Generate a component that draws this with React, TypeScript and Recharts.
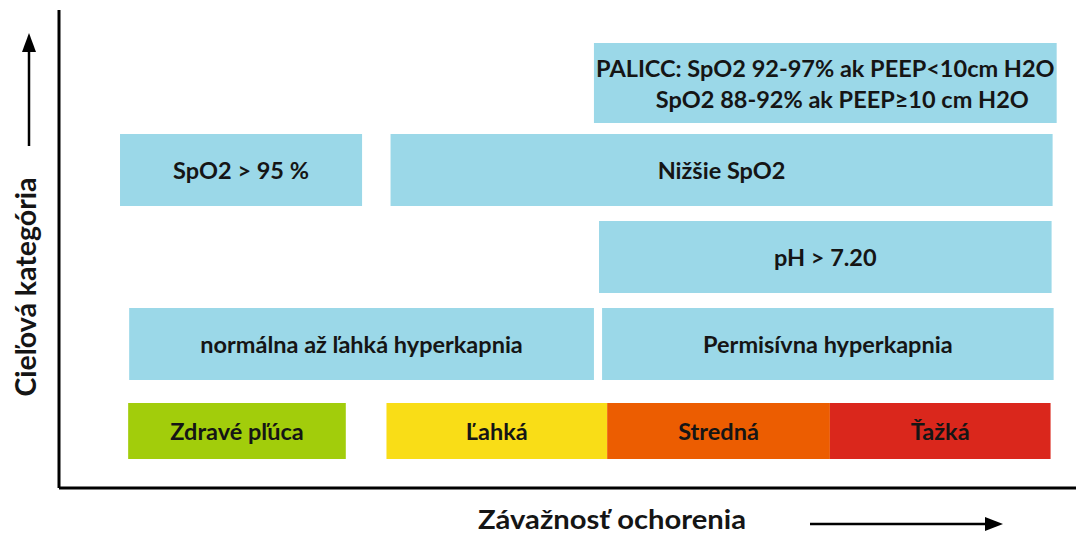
import React from 'react';
import { BarChart, Bar, XAxis, YAxis } from 'recharts';

const rows = ['PALICC', 'Oxygenácia', 'pH', 'CO2', 'Závažnosť'];

// box extent along the severity axis (0-100), [start, end]; null = no box
const segA = [[52.6, 98.1], [6.0, 29.8], [53.1, 97.6], [6.9, 52.6], [6.8, 28.2]];
const segB = [null, [32.6, 97.7], null, [53.4, 97.8], [32.2, 53.9]];
const segC = [null, null, null, null, [53.9, 75.8]];
const segD = [null, null, null, null, [75.8, 97.5]];

const textA = [
  ['PALICC: SpO2 92-97% ak PEEP<10cm H2O', 'SpO2 88-92% ak PEEP≥10 cm H2O'],
  ['SpO2 > 95 %'],
  ['pH > 7.20'],
  ['normálna až ľahká hyperkapnia'],
  ['Zdravé pľúca'],
];
const textB = [null, ['Nižšie SpO2'], null, ['Permisívna hyperkapnia'], ['Ľahká']];
const textC = [null, null, null, null, ['Stredná']];
const textD = [null, null, null, null, ['Ťažká']];

const BLUE = '#9bd8e8';
const colA = [BLUE, BLUE, BLUE, BLUE, '#a2cd0b'];
const colB = [BLUE, BLUE, BLUE, BLUE, '#f9dd17'];
const colC = [BLUE, BLUE, BLUE, BLUE, '#ec5d01'];
const colD = [BLUE, BLUE, BLUE, BLUE, '#da271c'];

const data = rows.map((row, i) => ({
  row,
  a: segA[i], b: segB[i], c: segC[i], d: segD[i],
  ta: textA[i], tb: textB[i], tc: textC[i], td: textD[i],
  ca: colA[i], cb: colB[i], cc: colC[i], cd: colD[i],
}));

const rowHeight = [80, 72, 72, 72, 56];
const FONT = 'Lato, "Open Sans", sans-serif';
const INK = '#151515';

const makeShape = (key: string) => (props: any) => {
  const { x, y, width, height, payload } = props;
  if (!payload || !payload[key] || !(width > 0)) return <g />;
  const r = rows.indexOf(payload.row);
  const h = rowHeight[r] ?? height;
  const cy = y + height / 2;
  const cx = x + width / 2;
  const lines: string[] = payload['t' + key] || [];
  const lh = 31;
  return (
    <g>
      <rect x={x} y={cy - h / 2} width={width} height={h} fill={payload['c' + key]} />
      {lines.map((t, k) => (
        <text
          key={k}
          x={cx + (k > 0 ? 17 : 0)}
          y={cy + (k - (lines.length - 1) / 2) * lh}
          textAnchor="middle"
          dominantBaseline="central"
          fontFamily={FONT}
          fontWeight={700}
          fontSize={23.5}
          fill={INK}
        >
          {t}
        </text>
      ))}
    </g>
  );
};

const YTitle = () => (
  <g>
    <line x1={29} y1={146} x2={29} y2={48} stroke="#000" strokeWidth={2.5} />
    <polygon points="29,33 22,52 36,52" fill="#000" />
    <text
      transform="translate(36,287) rotate(-90)"
      textAnchor="middle"
      fontFamily={FONT}
      fontWeight={700}
      fontSize={28.5}
      fill={INK}
    >
      Cieľová kategória
    </text>
  </g>
);

const XTitle = () => (
  <g>
    <text
      x={612}
      y={529}
      textAnchor="middle"
      textLength={268}
      lengthAdjust="spacingAndGlyphs"
      fontFamily={FONT}
      fontWeight={700}
      fontSize={27}
      fill={INK}
    >
      Závažnosť ochorenia
    </text>
    <line x1={810} y1={524} x2={990} y2={524} stroke="#000" strokeWidth={2.5} />
    <polygon points="1003,524 985,517 985,531" fill="#000" />
  </g>
);

export default function App() {
  return (
    <div style={{ position: 'absolute', left: 0, top: 0, background: '#fff' }}>
      <BarChart
        width={1076}
        height={535}
        data={data}
        layout="vertical"
        barGap={-80}
        margin={{ top: 10, right: 0, bottom: 0, left: 0 }}
      >
        <XAxis
          type="number"
          domain={[0, 100]}
          tick={false}
          tickLine={false}
          height={47}
          axisLine={{ stroke: '#000', strokeWidth: 3 }}
          label={<XTitle />}
        />
        <YAxis
          type="category"
          dataKey="row"
          width={59}
          tick={false}
          tickLine={false}
          padding={{ top: 29, bottom: 14 }}
          axisLine={{ stroke: '#000', strokeWidth: 3 }}
          label={<YTitle />}
        />
        <Bar dataKey="a" barSize={80} isAnimationActive={false} shape={makeShape('a')} />
        <Bar dataKey="b" barSize={80} isAnimationActive={false} shape={makeShape('b')} />
        <Bar dataKey="c" barSize={80} isAnimationActive={false} shape={makeShape('c')} />
        <Bar dataKey="d" barSize={80} isAnimationActive={false} shape={makeShape('d')} />
      </BarChart>
    </div>
  );
}
